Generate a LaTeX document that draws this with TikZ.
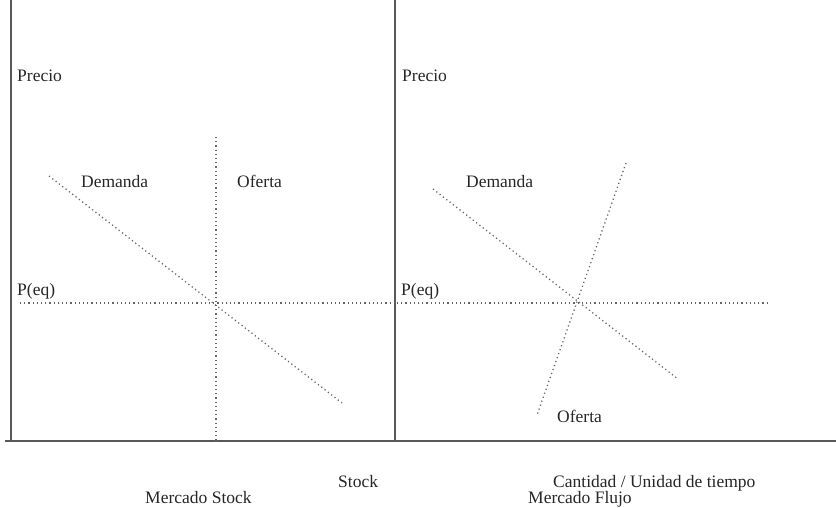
\documentclass[tikz,border=0pt]{standalone}
\usepackage{fontspec}
\setmainfont{Liberation Serif}
\begin{document}
\begin{tikzpicture}[x=1pt,y=-1pt,
  axis/.style={draw=black!65,line width=1.6pt},
  curve/.style={draw=black!60,line width=1.3pt,dash pattern=on 1.2pt off 3pt},
  lbl/.style={anchor=base west,inner sep=0pt,text=black!85,font=\fontsize{17.5}{20}\selectfont}]
\useasboundingbox (0,0) rectangle (836,508);

% axes
\coordinate (s) at (5,441);
\coordinate (e) at (836,441);
\coordinate (o1) at (11,441);
\coordinate (t1) at (11,0);
\coordinate (o2) at (395,441);
\coordinate (t2) at (395,0);

\path[axis] (s) -- (e);
\path[axis] (o1) -- (t1);
\path[axis] (o2) -- (t2);

% mercado stock
\coordinate (d1a) at (49,176);
\coordinate (d1b) at (342,403);
\coordinate (s1a) at (216,137);
\coordinate (s1b) at (216,441);
\coordinate (p1a) at (20,303);
\coordinate (p1b) at (393,303);

\path[curve] (d1a) -- (d1b);
\path[curve] (s1a) -- (s1b);
\path[curve] (p1a) -- (p1b);

\node[lbl] (precio1) at (17,82) {Precio};
\node[lbl] (peq1) at (17,295) {P(eq)};
\node[lbl] (dem1) at (81,188) {Demanda};
\node[lbl] (of1) at (237,188) {Oferta};
\node[lbl] (stock) at (338,487) {Stock};
\node[lbl] (mstock) at (145,503) {Mercado Stock};

% mercado flujo
\coordinate (d2a) at (433,189);
\coordinate (d2b) at (678,379);
\coordinate (s2a) at (626,163);
\coordinate (s2b) at (537,415);
\coordinate (p2a) at (397,303);
\coordinate (p2b) at (767,303);

\path[curve] (d2a) -- (d2b);
\path[curve] (s2a) -- (s2b);
\path[curve] (p2a) -- (p2b);

\node[lbl] (precio2) at (402,82) {Precio};
\node[lbl] (peq2) at (401,295) {P(eq)};
\node[lbl] (dem2) at (466,188) {Demanda};
\node[lbl] (of2) at (557,422) {Oferta};
\node[lbl] (cant) at (553,487) {Cantidad / Unidad de tiempo};
\node[lbl] (mflujo) at (528,503) {Mercado Flujo};

\end{tikzpicture}
\end{document}
